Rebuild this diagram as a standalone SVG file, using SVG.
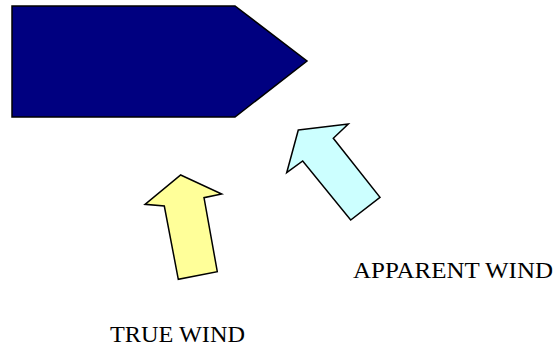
<svg xmlns="http://www.w3.org/2000/svg" width="558" height="347" viewBox="0 0 558 347">
<style>
.shape{stroke:#000;stroke-width:1.5;stroke-linejoin:miter}
.lbl{font-family:"Liberation Serif","Times New Roman",serif;font-size:24px;fill:#000}
</style>
<rect width="558" height="347" fill="#fff"/>
<g id="boat">
<polygon class="shape" points="12,6 235,6 307,61 235,117 12,117" fill="#000080"/>
</g>
<g id="true-wind-arrow">
<polygon class="shape" points="180.7,175 221.7,194 204,197.7 217.3,271.7 178.3,279.3 164.3,206 145,204.3" fill="#ffff99"/>
</g>
<g id="apparent-wind-arrow">
<polygon class="shape" points="298.3,130 348.3,124 333.3,138.3 380,197.3 350.7,220 302.7,161 286.7,172.7" fill="#ccffff"/>
</g>
<g id="labels">
<text class="lbl" x="353" y="278" textLength="200" lengthAdjust="spacingAndGlyphs">APPARENT WIND</text>
<text class="lbl" x="110" y="341.5" textLength="135" lengthAdjust="spacingAndGlyphs">TRUE WIND</text>
</g>
<g id="connectors"></g>
</svg>
